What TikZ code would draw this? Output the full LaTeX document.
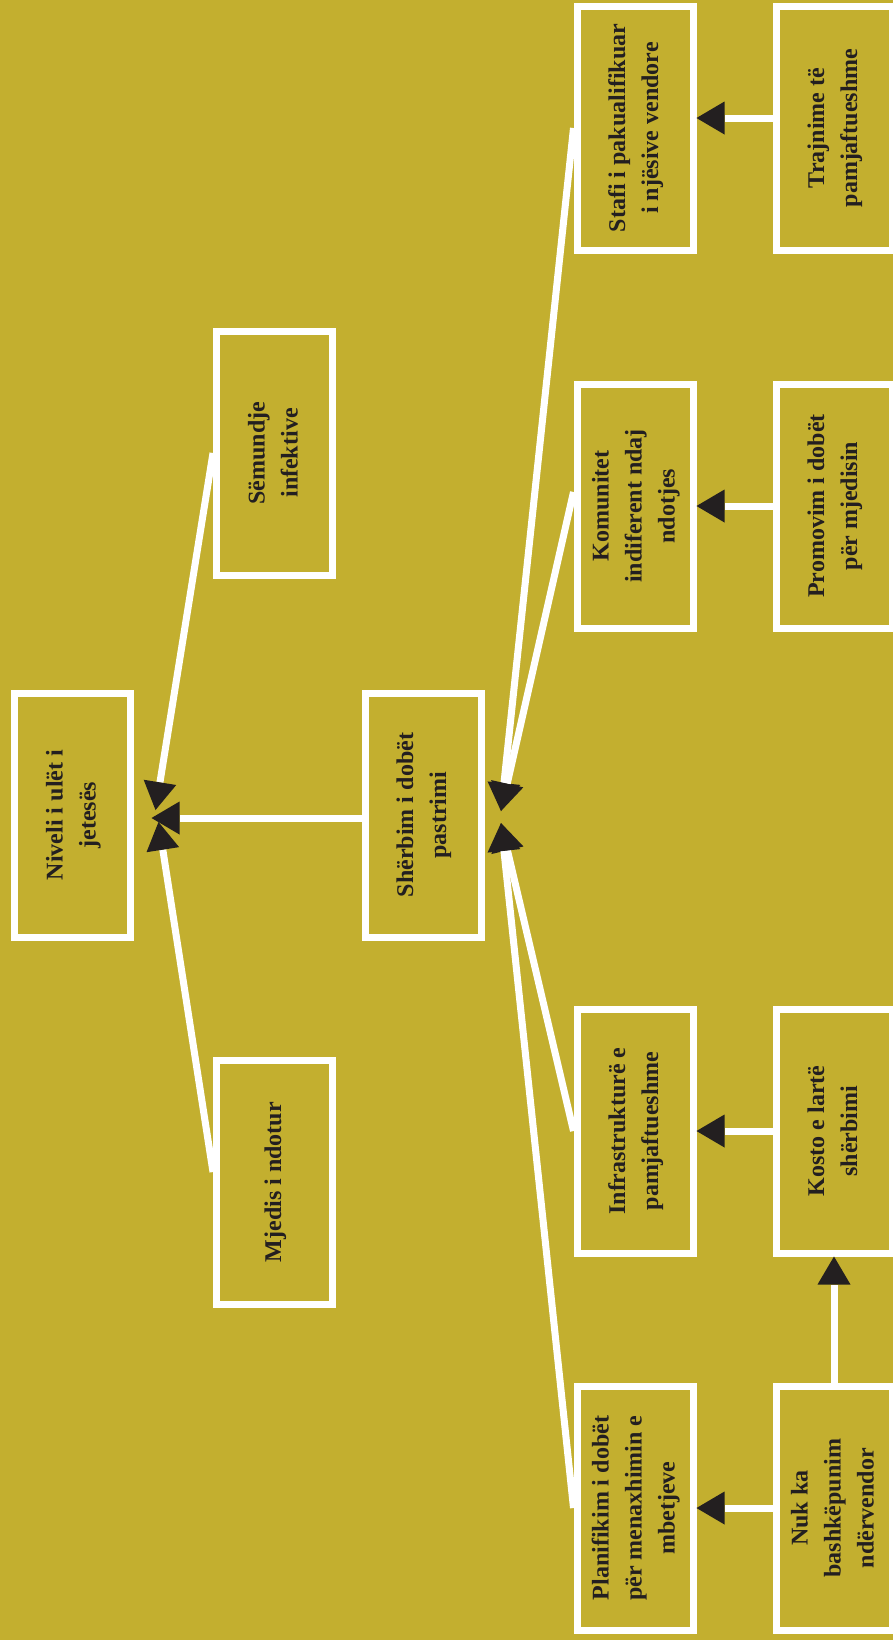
\documentclass[tikz,border=0pt]{standalone}
\usepackage{fontspec}
\setmainfont{Liberation Serif}
\usepackage{graphicx}
\usetikzlibrary{arrows.meta,calc}
\definecolor{olivebg}{RGB}{195,175,47}
\definecolor{ink}{RGB}{35,31,32}
\newcommand{\uptext}[1]{\rotatebox{90}{\begin{tabular}{@{}c@{}}#1\end{tabular}}}

\begin{document}
\begin{tikzpicture}[x=0.5pt, y=-0.5pt,
  box/.style={draw=white, line width=3.5pt, minimum width=58pt, minimum height=122pt, inner sep=0pt,
    font=\fontsize{12}{16.5}\selectfont\bfseries, text=ink},
  arr/.style={draw=white, line width=3.5pt, -{Triangle[length=14pt, width=16.5pt, color=ink, fill=ink, line width=0pt]}}]
\fill[olivebg] (0,0) rectangle (893,1640);
\useasboundingbox (0,0) rectangle (893,1640);
% effect and main cause
\node[box] (niveli) at (72.5,815) {\uptext{Niveli i ulët i\\jetesës}};
\node[box] (sherbim) at (423,815) {\uptext{Shërbim i dobët\\pastrimi}};
\node[box] (semundje) at (274.5,453) {\uptext{Sëmundje\\infektive}};
\node[box] (mjedis) at (274.5,1182) {\uptext{Mjedis i ndotur}};
% causes of the poor service
\node[box] (stafi) at (635,128) {\uptext{Stafi i pakualifikuar\\i njësive vendore}};
\node[box] (komunitet) at (635,506) {\uptext{Komunitet\\indiferent ndaj\\ndotjes}};
\node[box] (infra) at (635,1131) {\uptext{Infrastrukturë e\\pamjaftueshme}};
\node[box] (planif) at (635,1508) {\uptext{Planifikim i dobët\\për menaxhimin e\\mbetjeve}};
% root causes
\node[box] (trajnime) at (834,128) {\uptext{Trajnime të\\pamjaftueshme}};
\node[box] (promovim) at (834,506) {\uptext{Promovim i dobët\\për mjedisin}};
\node[box] (kosto) at (834,1131) {\uptext{Kosto e lartë\\shërbimi}};
\node[box] (nuk) at (834,1508) {\uptext{Nuk ka\\bashkëpunim\\ndërvendor}};
\draw[arr] (semundje.west) -- ($(niveli.east)+(21.5,-5)$);
\draw[arr] ($(sherbim.west)+(0,3)$) -- ($(niveli.east)+(17.5,3)$);
\draw[arr] ($(mjedis.west)+(0,-10)$) -- ($(niveli.east)+(24.5,7)$);
\draw[arr] (stafi.west) -- ($(sherbim.east)+(16.5,-4)$);
\draw[arr] ($(komunitet.west)+(0,-14)$) -- ($(sherbim.east)+(16.5,-4)$);
\draw[arr] (infra.west) -- ($(sherbim.east)+(16.5,8)$);
\draw[arr] (planif.west) -- ($(sherbim.east)+(16.5,8)$);
\draw[arr] ($(trajnime.west)+(0,-10)$) -- ($(stafi.east)+(0,-10)$);
\draw[arr] (promovim) -- (komunitet);
\draw[arr] (kosto) -- (infra);
\draw[arr] (nuk) -- (planif);
\draw[arr] (nuk) -- (kosto);
\end{tikzpicture}
\end{document}
